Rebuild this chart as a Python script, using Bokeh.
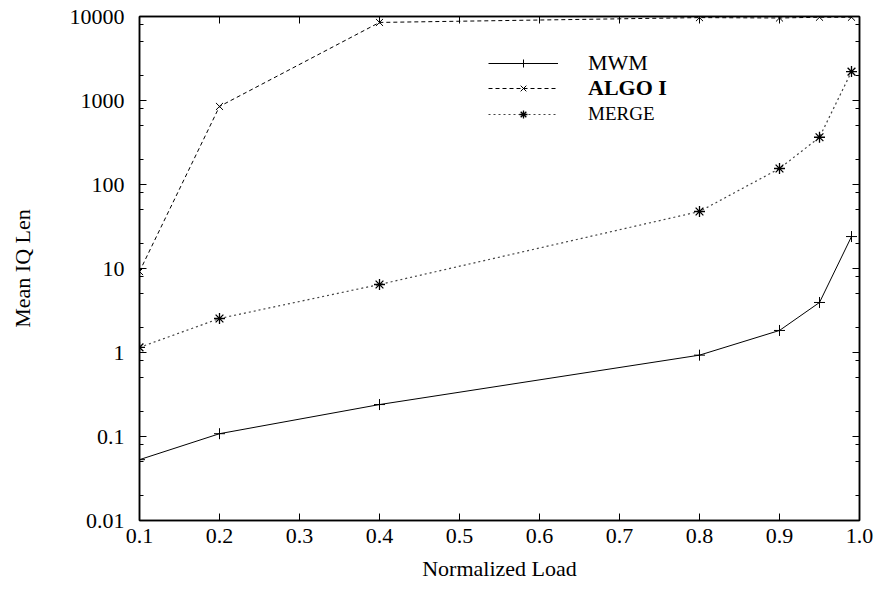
from bokeh.plotting import figure
from bokeh.models import (FixedTicker, LinearAxis, LogAxis, Legend, LegendItem,
                          ColumnDataSource)
from bokeh.embed import file_html
from bokeh.resources import INLINE

# ---- data ----
load = [0.1, 0.2, 0.4, 0.8, 0.9, 0.95, 0.99]
mwm = [0.053, 0.108, 0.24, 0.93, 1.83, 3.94, 24.0]
algo1 = [9.2, 850, 8500, 9700, 9600, 9800, 9800]
merge = [1.15, 2.54, 6.45, 47.7, 155, 365, 2210]

x_ticks = [0.1, 0.2, 0.3, 0.4, 0.5, 0.6, 0.7, 0.8, 0.9, 1.0]
x_tick_labels = ["0.1", "0.2", "0.3", "0.4", "0.5", "0.6", "0.7", "0.8", "0.9", "1.0"]
y_ticks = [0.01, 0.1, 1, 10, 100, 1000, 10000]
y_tick_labels = ["0.01", "0.1", "1", "10", "100", "1000", "10000"]
y_minor = [m * d for d in [0.01, 0.1, 1, 10, 100, 1000] for m in (2, 5, 8)]

FONT = "Liberation Serif"

p = figure(width=877, height=595, x_range=(0.1, 1.0), y_range=(0.01, 10000),
           y_axis_type="log", output_backend="svg", toolbar_location=None,
           min_border_left=139, min_border_right=18, min_border_top=16,
           min_border_bottom=75)
p.grid.visible = False
p.outline_line_color = "black"
p.outline_line_width = 1.5

src = ColumnDataSource(dict(x=load, mwm=mwm, algo=algo1, merge=merge))

l1 = p.line("x", "mwm", source=src, line_color="black", line_width=1)
m1 = p.scatter("x", "mwm", source=src, marker="cross", size=11, line_color="black", line_width=1)
l2 = p.line("x", "algo", source=src, line_color="black", line_width=1, line_dash="4 3")
m2 = p.scatter("x", "algo", source=src, marker="x", size=10, line_color="black", line_width=1)
l3 = p.line("x", "merge", source=src, line_color="#444444", line_width=1.2, line_dash="2 3")
m3 = p.scatter("x", "merge", source=src, marker="asterisk", size=11, line_color="black", line_width=1.3)

xt = FixedTicker(ticks=x_ticks)
yt = FixedTicker(ticks=y_ticks, minor_ticks=y_minor)
xover = {t: s for t, s in zip(x_ticks, x_tick_labels)}
yover = {t: s for t, s in zip(y_ticks, y_tick_labels)}

def style(ax):
    ax.axis_line_color = "black"
    ax.axis_line_width = 1.5
    ax.major_tick_in = 7
    ax.major_tick_out = 0
    ax.minor_tick_in = 4
    ax.minor_tick_out = 0
    ax.major_tick_line_color = "black"
    ax.minor_tick_line_color = "black"
    ax.major_label_text_font = FONT
    ax.major_label_text_font_size = "22px"
    ax.major_label_text_color = "black"
    ax.axis_label_text_font = FONT
    ax.axis_label_text_font_size = "22px"
    ax.axis_label_text_font_style = "normal"
    ax.axis_label_text_color = "black"

xa = p.xaxis[0]
xa.ticker = xt
xa.major_label_overrides = xover
xa.axis_label = "Normalized Load"
style(xa)
xa.major_label_standoff = 8
xa.axis_label_standoff = 10

ya = p.yaxis[0]
ya.ticker = yt
ya.major_label_overrides = yover
ya.axis_label = "Mean IQ Len"
style(ya)
ya.major_label_standoff = 15
ya.axis_label_standoff = 32

top = LinearAxis(ticker=xt)
style(top)
top.major_label_text_font_size = "1px"
top.major_label_text_color = None
top.major_label_standoff = 0
p.add_layout(top, "above")
right = LogAxis(ticker=yt)
style(right)
right.major_label_text_font_size = "1px"
right.major_label_text_color = None
right.major_label_standoff = 0
p.add_layout(right, "right")

def make_legend(label, r, y, fstyle, fsize):
    lg = Legend(items=[LegendItem(label=label, renderers=r)], location=(349, y),
                border_line_color=None, background_fill_alpha=0,
                glyph_width=70, glyph_height=20, label_height=20,
                label_standoff=30, padding=0, margin=0, spacing=0,
                label_text_font=FONT, label_text_font_size=fsize,
                label_text_font_style=fstyle, label_text_color="black")
    p.add_layout(lg, "center")

make_legend("MWM", [l1, m1], 444, "normal", "22px")
make_legend("ALGO I", [l2, m2], 419, "bold", "22px")
make_legend("MERGE", [l3, m3], 395, "normal", "19px")

open("out.html", "w").write(file_html(p, INLINE))
